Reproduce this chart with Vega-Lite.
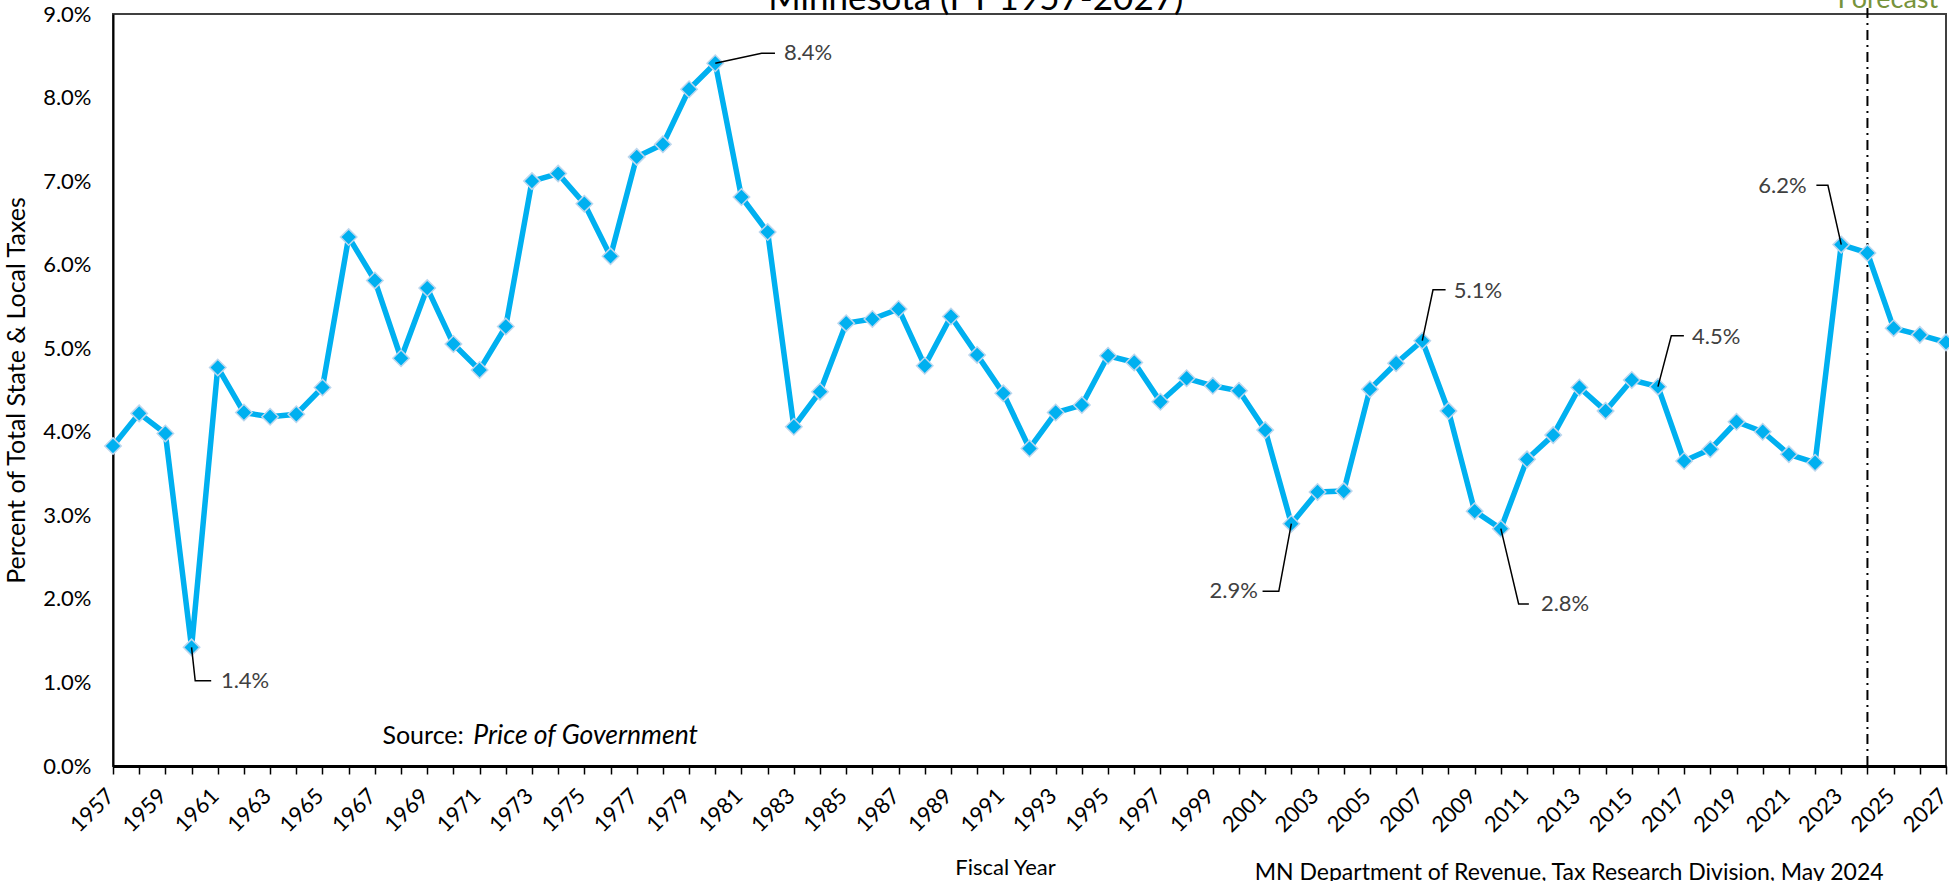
{
  "$schema": "https://vega.github.io/schema/vega-lite/v6.json",
  "width": 1833,
  "height": 752,
  "autosize": {"type": "none"},
  "padding": {"left": 113, "top": 14, "right": 3, "bottom": 115},
  "background": "white",
  "config": {
    "font": "Lato",
    "view": {"stroke": "#404040", "strokeWidth": 2}
  },
  "datasets": {
    "main": [
      {"yr": 1957, "v": 3.83}, {"yr": 1958, "v": 4.22}, {"yr": 1959, "v": 3.98}, {"yr": 1960, "v": 1.42},
      {"yr": 1961, "v": 4.77}, {"yr": 1962, "v": 4.23}, {"yr": 1963, "v": 4.18}, {"yr": 1964, "v": 4.21},
      {"yr": 1965, "v": 4.53}, {"yr": 1966, "v": 6.33}, {"yr": 1967, "v": 5.81}, {"yr": 1968, "v": 4.88},
      {"yr": 1969, "v": 5.72}, {"yr": 1970, "v": 5.05}, {"yr": 1971, "v": 4.74}, {"yr": 1972, "v": 5.26},
      {"yr": 1973, "v": 7.00}, {"yr": 1974, "v": 7.09}, {"yr": 1975, "v": 6.73}, {"yr": 1976, "v": 6.10},
      {"yr": 1977, "v": 7.29}, {"yr": 1978, "v": 7.44}, {"yr": 1979, "v": 8.10}, {"yr": 1980, "v": 8.41},
      {"yr": 1981, "v": 6.81}, {"yr": 1982, "v": 6.39}, {"yr": 1983, "v": 4.06}, {"yr": 1984, "v": 4.48},
      {"yr": 1985, "v": 5.30}, {"yr": 1986, "v": 5.35}, {"yr": 1987, "v": 5.47}, {"yr": 1988, "v": 4.79},
      {"yr": 1989, "v": 5.38}, {"yr": 1990, "v": 4.92}, {"yr": 1991, "v": 4.46}, {"yr": 1992, "v": 3.80},
      {"yr": 1993, "v": 4.23}, {"yr": 1994, "v": 4.32}, {"yr": 1995, "v": 4.91}, {"yr": 1996, "v": 4.83},
      {"yr": 1997, "v": 4.36}, {"yr": 1998, "v": 4.64}, {"yr": 1999, "v": 4.55}, {"yr": 2000, "v": 4.49},
      {"yr": 2001, "v": 4.02}, {"yr": 2002, "v": 2.90}, {"yr": 2003, "v": 3.28}, {"yr": 2004, "v": 3.29},
      {"yr": 2005, "v": 4.51}, {"yr": 2006, "v": 4.82}, {"yr": 2007, "v": 5.09}, {"yr": 2008, "v": 4.25},
      {"yr": 2009, "v": 3.05}, {"yr": 2010, "v": 2.84}, {"yr": 2011, "v": 3.67}, {"yr": 2012, "v": 3.96},
      {"yr": 2013, "v": 4.53}, {"yr": 2014, "v": 4.25}, {"yr": 2015, "v": 4.62}, {"yr": 2016, "v": 4.54},
      {"yr": 2017, "v": 3.65}, {"yr": 2018, "v": 3.79}, {"yr": 2019, "v": 4.12}, {"yr": 2020, "v": 4.00},
      {"yr": 2021, "v": 3.73}, {"yr": 2022, "v": 3.63}, {"yr": 2023, "v": 6.24}, {"yr": 2024, "v": 6.14},
      {"yr": 2025, "v": 5.24}, {"yr": 2026, "v": 5.16}, {"yr": 2027, "v": 5.07}
    ],
    "forecast": [{"yr": 2024, "v": 0, "v2": 9.12}],
    "leaders": [
      {"id": "a", "o": 0, "yr": 1960, "v": 1.42}, {"id": "a", "o": 1, "yr": 1960.14, "v": 1.02}, {"id": "a", "o": 2, "yr": 1960.75, "v": 1.02},
      {"id": "b", "o": 0, "yr": 1980, "v": 8.41}, {"id": "b", "o": 1, "yr": 1981.77, "v": 8.53}, {"id": "b", "o": 2, "yr": 1982.28, "v": 8.53},
      {"id": "c", "o": 0, "yr": 2002, "v": 2.90}, {"id": "c", "o": 1, "yr": 2001.52, "v": 2.09}, {"id": "c", "o": 2, "yr": 2000.9, "v": 2.09},
      {"id": "d", "o": 0, "yr": 2007, "v": 5.09}, {"id": "d", "o": 1, "yr": 2007.41, "v": 5.70}, {"id": "d", "o": 2, "yr": 2007.89, "v": 5.70},
      {"id": "e", "o": 0, "yr": 2010, "v": 2.84}, {"id": "e", "o": 1, "yr": 2010.68, "v": 1.94}, {"id": "e", "o": 2, "yr": 2011.07, "v": 1.94},
      {"id": "f", "o": 0, "yr": 2016, "v": 4.54}, {"id": "f", "o": 1, "yr": 2016.51, "v": 5.15}, {"id": "f", "o": 2, "yr": 2016.99, "v": 5.15},
      {"id": "g", "o": 0, "yr": 2023, "v": 6.24}, {"id": "g", "o": 1, "yr": 2022.49, "v": 6.95}, {"id": "g", "o": 2, "yr": 2022.05, "v": 6.95}
    ],
    "labels": [
      {"t": "1.4%", "yr": 1961.12, "v": 1.02, "side": "left"},
      {"t": "8.4%", "yr": 1982.62, "v": 8.53, "side": "left"},
      {"t": "2.9%", "yr": 2000.72, "v": 2.09, "side": "right"},
      {"t": "5.1%", "yr": 2008.2, "v": 5.69, "side": "left"},
      {"t": "2.8%", "yr": 2011.53, "v": 1.94, "side": "left"},
      {"t": "4.5%", "yr": 2017.3, "v": 5.14, "side": "left"},
      {"t": "6.2%", "yr": 2021.68, "v": 6.94, "side": "right"}
    ],
    "titleText": [{"t": "Minnesota (FY 1957-2027)", "yr": 1989.95, "v": 9.047}],
    "forecastLabel": [{"t": "Forecast", "yr": 2024.78, "v": 9.075}],
    "source1": [{"t": "Source:", "yr": 1967.29, "v": 0.263}],
    "source2": [{"t": "Price of Government", "yr": 1970.76, "v": 0.263}],
    "credit": [{"t": "MN Department of Revenue, Tax Research Division, May 2024", "yr": 2000.6, "v": -1.36}]
  },
  "encoding": {
    "x": {
      "field": "yr",
      "type": "quantitative",
      "scale": {"domain": [1957, 2027], "nice": false, "zero": false},
      "axis": {
        "title": "Fiscal Year",
        "titleFont": "Lato",
        "titleFontSize": 22,
        "titleFontWeight": "normal",
        "titleColor": "#000000",
        "titleX": 892,
        "titleY": 108,
        "titleAlign": "center",
        "titleBaseline": "alphabetic",
        "values": [1957,1958,1959,1960,1961,1962,1963,1964,1965,1966,1967,1968,1969,1970,1971,1972,1973,1974,1975,1976,1977,1978,1979,1980,1981,1982,1983,1984,1985,1986,1987,1988,1989,1990,1991,1992,1993,1994,1995,1996,1997,1998,1999,2000,2001,2002,2003,2004,2005,2006,2007,2008,2009,2010,2011,2012,2013,2014,2015,2016,2017,2018,2019,2020,2021,2022,2023,2024,2025,2026,2027],
        "labelExpr": "datum.value % 2 == 1 ? '' + datum.value : ''",
        "labelAngle": -45,
        "labelAlign": "right",
        "labelBaseline": "middle",
        "labelPadding": 18,
        "labelOffset": -3,
        "labelFontSize": 22,
        "labelColor": "#000000",
        "labelOverlap": false,
        "labelFlush": false,
        "labelBound": false,
        "grid": false,
        "domainColor": "#000000",
        "domainWidth": 3,
        "tickColor": "#000000",
        "tickWidth": 1.5,
        "tickSize": 8
      }
    },
    "y": {
      "field": "v",
      "type": "quantitative",
      "scale": {"domain": [0, 9], "nice": false, "zero": false},
      "axis": {
        "title": "Percent of Total State & Local Taxes",
        "titleFont": "Lato",
        "titleFontSize": 25,
        "titleFontWeight": "normal",
        "titleColor": "#000000",
        "titleAngle": -90,
        "titleX": -97,
        "titleY": 376,
        "titleAlign": "center",
        "titleBaseline": "middle",
        "values": [0, 1, 2, 3, 4, 5, 6, 7, 8, 9],
        "labelExpr": "format(datum.value, '.1f') + '%'",
        "labelFontSize": 22,
        "labelColor": "#000000",
        "labelPadding": 22,
        "ticks": false,
        "grid": false,
        "domainColor": "#000000",
        "domainWidth": 2
      }
    }
  },
  "layer": [
    {
      "data": {"name": "forecast"},
      "mark": {"type": "rule", "color": "#000000", "strokeWidth": 2, "strokeDash": [10, 5, 2, 5]},
      "encoding": {"y2": {"field": "v2"}}
    },
    {
      "data": {"name": "main"},
      "mark": {"type": "line", "color": "#00B0F0", "strokeWidth": 5.5, "strokeJoin": "round"},
      "encoding": {}
    },
    {
      "data": {"name": "main"},
      "mark": {"type": "point", "shape": "diamond", "size": 270, "filled": true, "fill": "#00B0F0", "stroke": "#BDD7EE", "strokeWidth": 1.5, "opacity": 1},
      "encoding": {}
    },
    {
      "data": {"name": "leaders"},
      "mark": {"type": "line", "color": "#000000", "strokeWidth": 1.5},
      "encoding": {"detail": {"field": "id"}, "order": {"field": "o", "type": "quantitative"}}
    },
    {
      "data": {"name": "labels"},
      "transform": [{"filter": "datum.side == 'left'"}],
      "mark": {"type": "text", "align": "left", "baseline": "middle", "fontSize": 22, "color": "#404040", "font": "Lato"},
      "encoding": {"text": {"field": "t"}}
    },
    {
      "data": {"name": "labels"},
      "transform": [{"filter": "datum.side == 'right'"}],
      "mark": {"type": "text", "align": "right", "baseline": "middle", "fontSize": 22, "color": "#404040", "font": "Lato"},
      "encoding": {"text": {"field": "t"}}
    },
    {
      "data": {"name": "titleText"},
      "mark": {"type": "text", "align": "center", "baseline": "alphabetic", "fontSize": 35, "color": "#000000", "font": "Lato"},
      "encoding": {"text": {"field": "t"}}
    },
    {
      "data": {"name": "forecastLabel"},
      "mark": {"type": "text", "align": "center", "baseline": "alphabetic", "fontSize": 27, "color": "#77933C", "font": "Lato"},
      "encoding": {"text": {"field": "t"}}
    },
    {
      "data": {"name": "source1"},
      "mark": {"type": "text", "align": "left", "baseline": "alphabetic", "fontSize": 25, "color": "#000000", "font": "Lato"},
      "encoding": {"text": {"field": "t"}}
    },
    {
      "data": {"name": "source2"},
      "mark": {"type": "text", "align": "left", "baseline": "alphabetic", "fontSize": 26.5, "fontStyle": "italic", "color": "#000000", "font": "Lato"},
      "encoding": {"text": {"field": "t"}}
    },
    {
      "data": {"name": "credit"},
      "mark": {"type": "text", "align": "left", "baseline": "alphabetic", "fontSize": 23, "color": "#000000", "font": "Lato"},
      "encoding": {"text": {"field": "t"}}
    }
  ]
}
